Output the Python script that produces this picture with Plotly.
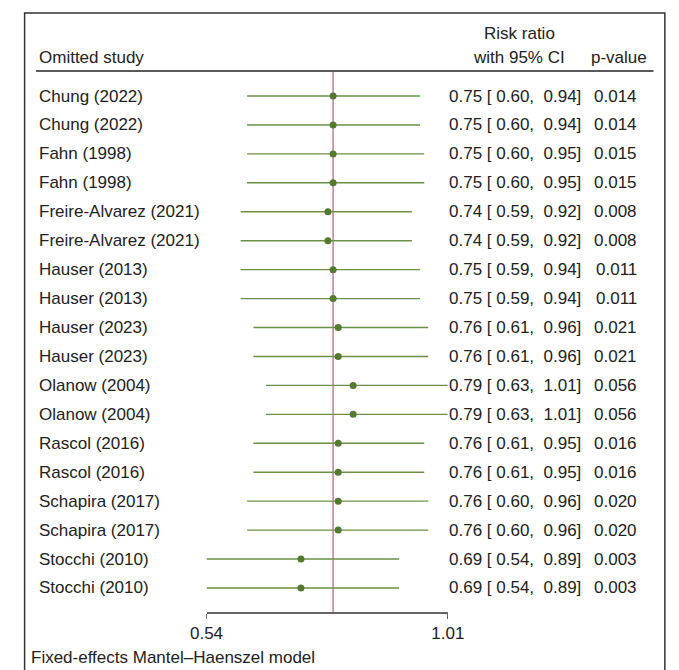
import numpy as np
import plotly.graph_objects as go

# Leave-one-out meta-analysis: risk ratio with each study omitted
studies = [
    "Chung (2022)", "Chung (2022)",
    "Fahn (1998)", "Fahn (1998)",
    "Freire-Alvarez (2021)", "Freire-Alvarez (2021)",
    "Hauser (2013)", "Hauser (2013)",
    "Hauser (2023)", "Hauser (2023)",
    "Olanow (2004)", "Olanow (2004)",
    "Rascol (2016)", "Rascol (2016)",
    "Schapira (2017)", "Schapira (2017)",
    "Stocchi (2010)", "Stocchi (2010)",
]
rr = [0.75, 0.75, 0.75, 0.75, 0.74, 0.74, 0.75, 0.75, 0.76, 0.76,
      0.79, 0.79, 0.76, 0.76, 0.76, 0.76, 0.69, 0.69]
ci_low = [0.60, 0.60, 0.60, 0.60, 0.59, 0.59, 0.59, 0.59, 0.61, 0.61,
          0.63, 0.63, 0.61, 0.61, 0.60, 0.60, 0.54, 0.54]
ci_high = [0.94, 0.94, 0.95, 0.95, 0.92, 0.92, 0.94, 0.94, 0.96, 0.96,
           1.01, 1.01, 0.95, 0.95, 0.96, 0.96, 0.89, 0.89]
p_values = ["0.014", "0.014", "0.015", "0.015", "0.008", "0.008",
            "0.011", "0.011", "0.021", "0.021", "0.056", "0.056",
            "0.016", "0.016", "0.020", "0.020", "0.003", "0.003"]
overall_rr = 0.75
axis_ticks = [0.54, 1.01]
axis_tick_labels = ["0.54", "1.01"]

W, H = 679, 670
FONT = "Liberation Sans, Arial, sans-serif"
FS = 17
TXT = "#222222"
LINE_GREEN = "#6a9147"
DOT_GREEN = "#54792f"
OVERALL = "#c47f95"

rows = list(range(len(studies)))
row_top_px, row_step_px = 96.0, 28.94
plot_top_px, plot_bot_px = 71.0, 612.0
y_top = (plot_top_px - row_top_px) / row_step_px
y_bot = (plot_bot_px - row_top_px) / row_step_px

def px_x(p):
    return p / W

def px_y(p):
    return 1 - p / H

fig = go.Figure()

# overall estimate reference line
fig.add_trace(go.Scatter(
    x=[overall_rr, overall_rr], y=[y_top, y_bot], mode="lines",
    line=dict(color=OVERALL, width=1.5), hoverinfo="skip", showlegend=False,
))

# confidence intervals
cx, cy = [], []
for i, lo, hi in zip(rows, ci_low, ci_high):
    cx += [lo, hi, None]
    cy += [i, i, None]
fig.add_trace(go.Scatter(
    x=cx, y=cy, mode="lines", line=dict(color=LINE_GREEN, width=1.4),
    hoverinfo="skip", showlegend=False,
))

# point estimates
fig.add_trace(go.Scatter(
    x=rr, y=rows, mode="markers",
    marker=dict(color=DOT_GREEN, size=7), showlegend=False,
))

annotations = []
def note(text, x, y, xanchor="left", yref="paper"):
    annotations.append(dict(
        text=text, x=x, y=y, xref="paper", yref=yref, xanchor=xanchor,
        yanchor="middle", showarrow=False,
        font=dict(family=FONT, size=FS, color=TXT),
    ))

# column headers
note("Omitted study", px_x(21), px_y(57))
note("Risk ratio", px_x(528.5), px_y(33), xanchor="center")
note("with 95% CI", px_x(528.5), px_y(57), xanchor="center")
note("p-value", px_x(665), px_y(57), xanchor="right")

# row labels, estimates and p-values
for i, name, est, lo, hi, p in zip(rows, studies, rr, ci_low, ci_high, p_values):
    note(name, px_x(21), i, yref="y")
    note(f"{est:.2f} [ {lo:.2f},\u00a0 {hi:.2f}]", px_x(596), i, xanchor="right", yref="y")
    note(p, px_x(655), i, xanchor="right", yref="y")

note("Fixed-effects Mantel\u2013Haenszel model", px_x(13), px_y(657))

shapes = [
    # outer frame
    dict(type="rect", xref="paper", yref="paper",
         x0=px_x(8), x1=px_x(W + 3), y0=px_y(H + 3), y1=px_y(13),
         line=dict(color="#333333", width=1.5)),
    # header rule
    dict(type="line", xref="paper", yref="paper",
         x0=px_x(20), x1=px_x(670), y0=px_y(71), y1=px_y(71),
         line=dict(color="#5a5a5a", width=2)),
]

fig.update_layout(
    width=W, height=H,
    margin=dict(l=0, r=0, t=0, b=0),
    paper_bgcolor="white", plot_bgcolor="rgba(0,0,0,0)",
    showlegend=False,
    annotations=annotations, shapes=shapes,
    xaxis=dict(
        type="log",
        domain=[px_x(199.5), px_x(453.5)],
        range=[np.log10(axis_ticks[0]), np.log10(axis_ticks[1])],
        tickvals=axis_ticks, ticktext=axis_tick_labels,
        ticks="outside", ticklen=5, tickwidth=1.3, tickcolor="#666666",
        showline=True, linecolor="#666666", linewidth=1.5,
        showgrid=False, zeroline=False,
        tickfont=dict(family=FONT, size=FS, color=TXT),
    ),
    yaxis=dict(
        domain=[px_y(plot_bot_px), px_y(plot_top_px)],
        range=[y_bot, y_top],
        showticklabels=False, showgrid=False, zeroline=False,
        showline=False, ticks="",
    ),
)

fig.write_html("out.html")
